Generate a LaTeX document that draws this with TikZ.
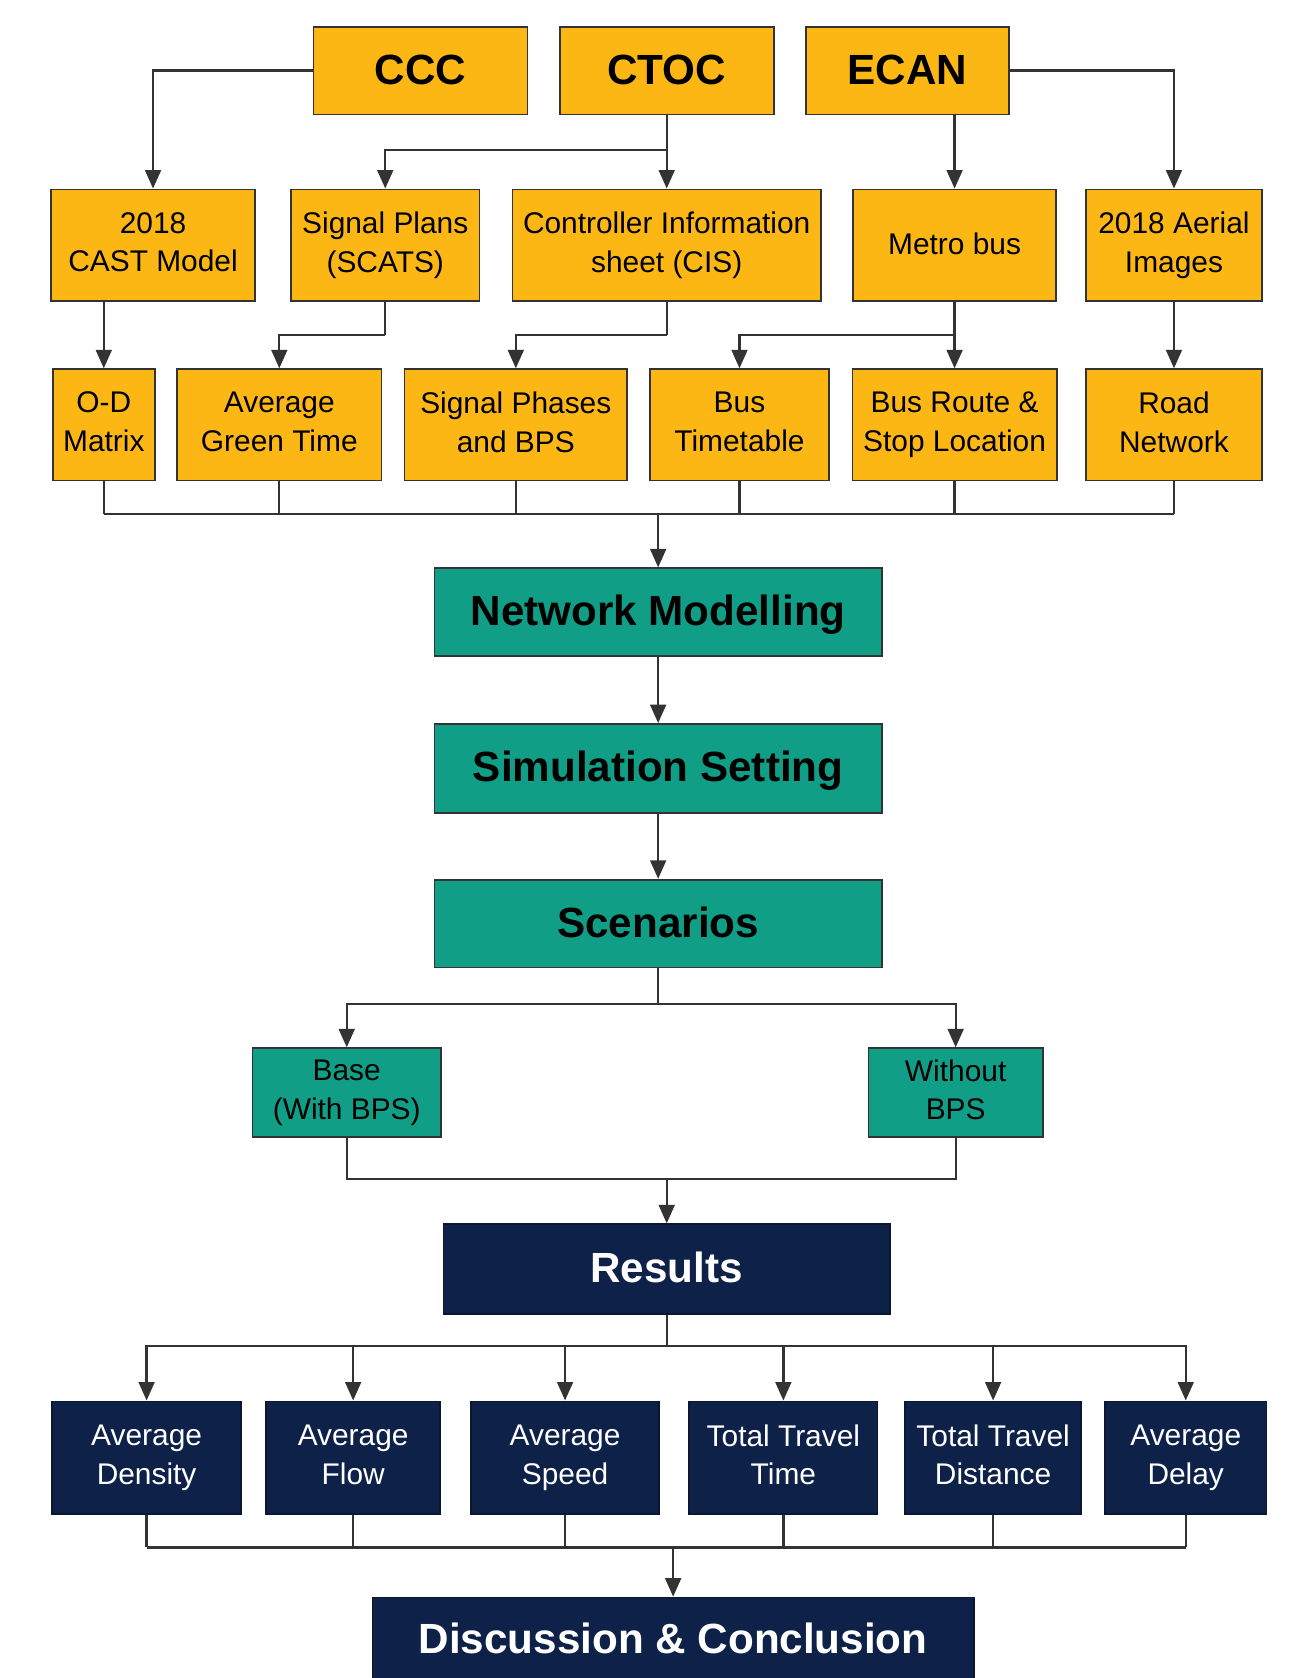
\documentclass[tikz,border=0pt]{standalone}
\usepackage{fontspec}
\setmainfont{Liberation Sans}
\usetikzlibrary{arrows.meta}
\definecolor{gold}{HTML}{FDB714}
\definecolor{tealbox}{HTML}{119E86}
\definecolor{navy}{HTML}{0E2149}
\definecolor{lncol}{HTML}{333333}
\newcommand\boxstrut{\rule[-0.2em]{0pt}{1.05em}}
\begin{document}
\begin{tikzpicture}[x=0.0214cm,y=-0.0214cm,
  box/.style={draw=lncol, line width=1pt, inner sep=0pt, align=center, font=\fontsize{17}{22}\selectfont,
    execute at begin node=\boxstrut, execute at end node=\boxstrut},
  gbox/.style={box, fill=gold, text=black},
  tbox/.style={box, fill=tealbox, text=black},
  nbox/.style={box, fill=navy, draw=navy!70!black, text=white},
  big/.style={font=\fontsize{24}{28}\selectfont\bfseries},
  sz/.style 2 args={minimum width=#1*0.0214cm, minimum height=#2*0.0214cm},
  conn/.style={draw=lncol, line width=1.3pt},
  arr/.style={conn, -{Triangle[width=9pt,length=10.5pt]}}]
\clip (0,0) rectangle (1214,1568);
\fill[white] (0,0) rectangle (1214,1568);

% Row 0
\node[gbox, big, sz={200}{82}] (ccc) at (393,66) {CCC};
\node[gbox, big, sz={200}{82}] (ctoc) at (623,66) {CTOC};
\node[gbox, big, sz={190}{82}] (ecan) at (848,66) {ECAN};

% Row 1
\node[gbox, sz={190}{104}] (cast) at (143,229) {2018\\CAST Model};
\node[gbox, sz={176}{104}] (scats) at (360,229) {Signal Plans\\(SCATS)};
\node[gbox, sz={288}{104}] (cis) at (623,229) {Controller Information\\sheet (CIS)};
\node[gbox, sz={190}{104}] (metro) at (892,229) {Metro bus};
\node[gbox, sz={165}{104}] (aerial) at (1097,229) {2018 Aerial\\Images};

% Row 2
\node[gbox, sz={95}{104}] (od) at (97,397) {O-D\\Matrix};
\node[gbox, sz={191}{104}] (agt) at (261,397) {Average\\Green Time};
\node[gbox, sz={208}{104}] (spb) at (482,397) {Signal Phases\\and BPS};
\node[gbox, sz={167}{104}] (bt) at (691,397) {Bus\\Timetable};
\node[gbox, sz={191}{104}] (brsl) at (892,397) {Bus Route \&\\Stop Location};
\node[gbox, sz={165}{104}] (rn) at (1097,397) {Road\\Network};

% Middle
\node[tbox, big, sz={418}{82}] (net) at (615,572) {Network Modelling};
\node[tbox, big, sz={418}{83}] (sim) at (615,718) {Simulation Setting};
\node[tbox, big, sz={418}{82}] (scen) at (615,863) {Scenarios};
\node[tbox, sz={176}{83}] (base) at (324,1021) {Base\\(With BPS)};
\node[tbox, sz={163}{83}] (wo) at (893,1021) {Without\\BPS};
\node[nbox, big, sz={417}{84}] (res) at (623,1186) {Results};

% Results row
\node[nbox, sz={177}{105}] (ad) at (137,1362) {Average\\Density};
\node[nbox, sz={163}{105}] (af) at (330,1362) {Average\\Flow};
\node[nbox, sz={176}{105}] (as) at (528,1362) {Average\\Speed};
\node[nbox, sz={176}{105}] (ttt) at (732,1362) {Total Travel\\Time};
\node[nbox, sz={164}{105}] (ttd) at (928,1362) {Total Travel\\Distance};
\node[nbox, sz={151}{105}] (adl) at (1108,1362) {Average\\Delay};

% Discussion
\node[nbox, sz={562}{84}, anchor=north] (disc) at (629,1492) {};
\node[text=white, big, inner sep=0pt] (disctext) at (629,1532) {\boxstrut Discussion \& Conclusion};

% Junction coordinates
\coordinate (j1) at (623,140);
\coordinate (j2) at (360,313);
\coordinate (j3) at (623,313);
\coordinate (j4) at (892,313);
\coordinate (bus1) at (615,480);
\coordinate (j5) at (615,938);
\coordinate (bus2) at (623,1102);
\coordinate (j6) at (623,1258);
\coordinate (bus3) at (629,1446);

% Row 0 -> Row 1
\draw[arr] (ccc.west) -| (cast.north);
\draw[arr] (ctoc.south) -- (cis.north);
\draw[arr] (j1) -| (scats.north);
\draw[arr] (ecan.south -| metro.north) -- (metro.north);
\draw[arr] (ecan.east) -| (aerial.north);

% Row 1 -> Row 2
\draw[arr] (cast.south -| od.north) -- (od.north);
\draw[conn] (scats.south) -- (j2);
\draw[arr] (j2) -| (agt.north);
\draw[conn] (cis.south) -- (j3);
\draw[arr] (j3) -| (spb.north);
\draw[arr] (metro.south) -- (brsl.north);
\draw[arr] (j4) -| (bt.north);
\draw[arr] (aerial.south) -- (rn.north);

% Row 2 -> Network Modelling
\foreach \n in {od,agt,spb,bt,brsl,rn} \draw[conn] (\n.south) -- (\n.south |- bus1);
\draw[conn] (od.south |- bus1) -- (rn.south |- bus1);
\draw[arr] (bus1) -- (net.north);

\draw[arr] (net.south) -- (sim.north);
\draw[arr] (sim.south) -- (scen.north);

% Scenarios
\draw[conn] (scen.south) -- (j5);
\draw[arr] (j5) -| (base.north);
\draw[arr] (j5) -| (wo.north);
\draw[conn] (base.south) |- (bus2);
\draw[conn] (wo.south) |- (bus2);
\draw[arr] (bus2) -- (res.north);

% Results
\draw[conn] (res.south) -- (j6);
\foreach \n in {ad,af,as,ttt,ttd,adl} \draw[arr] (j6) -| (\n.north);
\foreach \n in {ad,af,as,ttt,ttd,adl} \draw[conn] (\n.south) -- (\n.south |- bus3);
\draw[conn] (ad.south |- bus3) -- (adl.south |- bus3);
\draw[arr] (bus3) -- (disc.north);
\end{tikzpicture}
\end{document}
